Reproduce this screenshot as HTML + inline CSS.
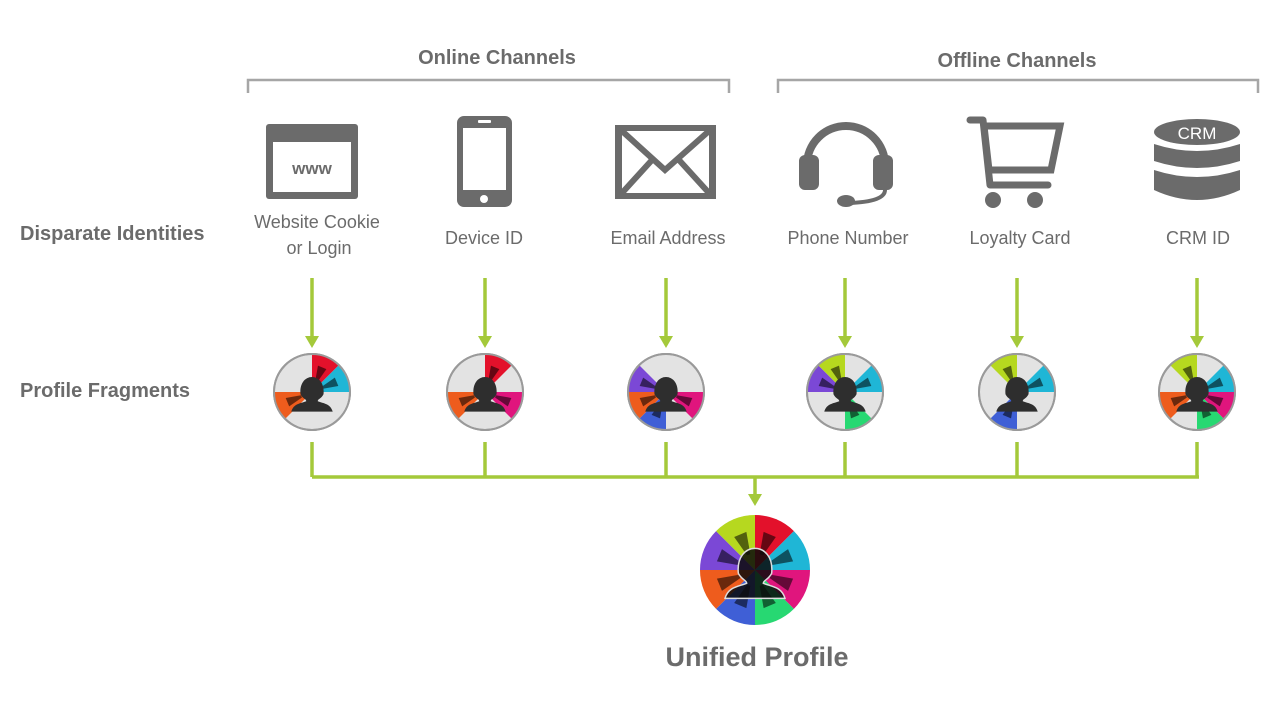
<!DOCTYPE html>
<html><head><meta charset="utf-8"><style>
html,body{margin:0;padding:0;background:#fff;width:1280px;height:720px;overflow:hidden}
svg{display:block}
text{font-family:"Liberation Sans","DejaVu Sans",sans-serif}
</style></head><body>
<svg id="s" width="1280" height="720" viewBox="0 0 1280 720" xmlns="http://www.w3.org/2000/svg">
<g fill="none" stroke="#a6a6a6" stroke-width="2.5">
<path d="M248 93V80H729V93"/><path d="M778 93V80H1258V93"/>
</g>
<text x="497" y="64" font-size="20" font-weight="bold" fill="#6b6b6b" text-anchor="middle">Online Channels</text>
<text x="1017" y="67" font-size="20" font-weight="bold" fill="#6b6b6b" text-anchor="middle">Offline Channels</text>
<text x="20" y="240" font-size="20" font-weight="bold" fill="#6b6b6b">Disparate Identities</text>
<text x="20" y="397" font-size="20" font-weight="bold" fill="#6b6b6b">Profile Fragments</text>
<g font-size="18" fill="#6b6b6b" text-anchor="middle">
<text x="317" y="228">Website Cookie</text><text x="319" y="254">or Login</text>
<text x="484" y="244">Device ID</text>
<text x="668" y="244">Email Address</text>
<text x="848" y="244">Phone Number</text>
<text x="1020" y="244">Loyalty Card</text>
<text x="1198" y="244">CRM ID</text>
</g>
<text x="757" y="666" font-size="27" font-weight="bold" fill="#6b6b6b" text-anchor="middle">Unified Profile</text>
<g fill="#6b6b6b">
<rect x="266" y="124" width="92" height="75" rx="3"/>
<rect x="273" y="142" width="78" height="50" fill="#fff"/>
<text x="312" y="174" font-size="17" font-weight="bold" text-anchor="middle" fill="#6b6b6b">www</text>
<rect x="457" y="116" width="55" height="91" rx="7"/>
<rect x="463" y="128" width="43" height="62" fill="#fff"/>
<rect x="478" y="120" width="13" height="3" rx="1" fill="#fff"/>
<circle cx="484" cy="199" r="4" fill="#fff"/>
<rect x="615" y="125" width="101" height="74"/>
<rect x="622" y="131" width="87" height="62" fill="#fff"/>
<path d="M622 131L665 170L709 131" fill="none" stroke="#6b6b6b" stroke-width="6"/>
<path d="M622 193L652 160M709 193L679 160" fill="none" stroke="#6b6b6b" stroke-width="6"/>
<path d="M807 165A39 39 0 0 1 885 165" fill="none" stroke="#6b6b6b" stroke-width="8"/>
<rect x="799" y="155" width="20" height="35" rx="6"/>
<rect x="873" y="155" width="20" height="35" rx="6"/>
<path d="M885 190Q885 202 848 203" fill="none" stroke="#6b6b6b" stroke-width="4"/>
<ellipse cx="846" cy="201" rx="9" ry="6"/>
<path d="M970 120H983L990 185H1048" fill="none" stroke="#6b6b6b" stroke-width="7" stroke-linejoin="round" stroke-linecap="round"/>
<path d="M984 126H1060L1051 170H989Z" fill="none" stroke="#6b6b6b" stroke-width="7"/>
<circle cx="993" cy="200" r="8"/><circle cx="1035" cy="200" r="8"/>
<ellipse cx="1197" cy="132" rx="43" ry="13"/>
<path d="M1154 144Q1197 158 1240 144V161Q1197 175 1154 161Z"/>
<path d="M1154 170Q1197 184 1240 170V190Q1197 210 1154 190Z"/>
<text x="1197" y="139" font-size="17" text-anchor="middle" fill="#fff">CRM</text>
</g>
<g id="lines" stroke="#a4c93a" stroke-width="3.5" fill="none"></g>
<g id="arrows" fill="#a4c93a"></g>
<g id="wheels"></g>
</svg>
<script>
var NS="http://www.w3.org/2000/svg";
var cols=["#e3112b","#1fb6d6","#e0157d","#27d872","#3f5fd6","#ee5c1d","#7b48d6","#b6d81f"];
var xs=[312,485,666,845,1017,1197];
var frags=[[0,1,5],[0,5,2],[6,5,4,2],[7,6,1,3],[7,1,4],[7,1,5,2,3]];
var L=document.getElementById("lines"),A=document.getElementById("arrows"),W=document.getElementById("wheels");
function el(p,t,a){var e=document.createElementNS(NS,t);for(var k in a)e.setAttribute(k,a[k]);p.appendChild(e);return e;}
function arrow(x,y){el(A,"path",{d:"M"+(x-7)+" "+(y-12)+"L"+(x+7)+" "+(y-12)+"L"+x+" "+y+"Z"});}
xs.forEach(function(x){el(L,"path",{d:"M"+x+" 278V336"});arrow(x,348);el(L,"path",{d:"M"+x+" 442V477"});});
el(L,"path",{d:"M312 477H1199"});el(L,"path",{d:"M755 477V495"});arrow(755,506);
function wheel(cx,cy,r,set,full){
 var g=el(W,"g",{});
 el(g,"circle",{cx:cx,cy:cy,r:r,fill:"#e3e3e3",stroke:full?"none":"#9a9a9a","stroke-width":2});
 for(var i=0;i<8;i++){
  if(set.indexOf(i)<0)continue;
  var a1=(i*45-90)*Math.PI/180,a2=((i+1)*45-90)*Math.PI/180;
  el(g,"path",{d:"M"+cx+" "+cy+"L"+(cx+r*Math.cos(a1))+" "+(cy+r*Math.sin(a1))+"A"+r+" "+r+" 0 0 1 "+(cx+r*Math.cos(a2))+" "+(cy+r*Math.sin(a2))+"Z",fill:cols[i]});
  var am=(i*45+22.5-90)*Math.PI/180;
  var r1=r*0.3,r2=r*0.7,w=r*0.08;
  var px=-Math.sin(am),py=Math.cos(am);
  var x1=cx+r1*Math.cos(am),y1=cy+r1*Math.sin(am),x2=cx+r2*Math.cos(am),y2=cy+r2*Math.sin(am);
  el(g,"path",{d:"M"+(x1+px*w*0.4)+" "+(y1+py*w*0.4)+"L"+(x2+px*w*1.5)+" "+(y2+py*w*1.5)+"L"+(x2-px*w*1.5)+" "+(y2-py*w*1.5)+"L"+(x1-px*w*0.4)+" "+(y1-py*w*0.4)+"Z",fill:"rgba(0,0,0,0.55)"});
 }
 if(!full) el(g,"circle",{cx:cx,cy:cy,r:r,fill:"none",stroke:"#9a9a9a","stroke-width":2});
 var s=r/33;
 el(g,"path",{d:"M"+(cx-10*s)+" "+(cy+2*s)+"C"+(cx-12*s)+" "+(cy-18*s)+" "+(cx+12*s)+" "+(cy-18*s)+" "+(cx+10*s)+" "+(cy+2*s)+"C"+(cx+8*s)+" "+(cy+6*s)+" "+(cx+5*s)+" "+(cy+6*s)+" "+(cx+5*s)+" "+(cy+8*s)+"C"+(cx+10*s)+" "+(cy+10*s)+" "+(cx+16*s)+" "+(cy+10*s)+" "+(cx+18*s)+" "+(cy+17*s)+"L"+(cx-18*s)+" "+(cy+17*s)+"C"+(cx-16*s)+" "+(cy+10*s)+" "+(cx-10*s)+" "+(cy+10*s)+" "+(cx-5*s)+" "+(cy+8*s)+"C"+(cx-5*s)+" "+(cy+6*s)+" "+(cx-8*s)+" "+(cy+6*s)+" "+(cx-10*s)+" "+(cy+2*s)+"Z",fill:full?"rgba(10,10,10,0.85)":"#2e2e2e",stroke:full?"#ddd":"none","stroke-width":1.5});
}
xs.forEach(function(x,i){wheel(x,392,38,frags[i],false);});
wheel(755,570,55,[0,1,2,3,4,5,6,7],true);
</script>
</body></html>
